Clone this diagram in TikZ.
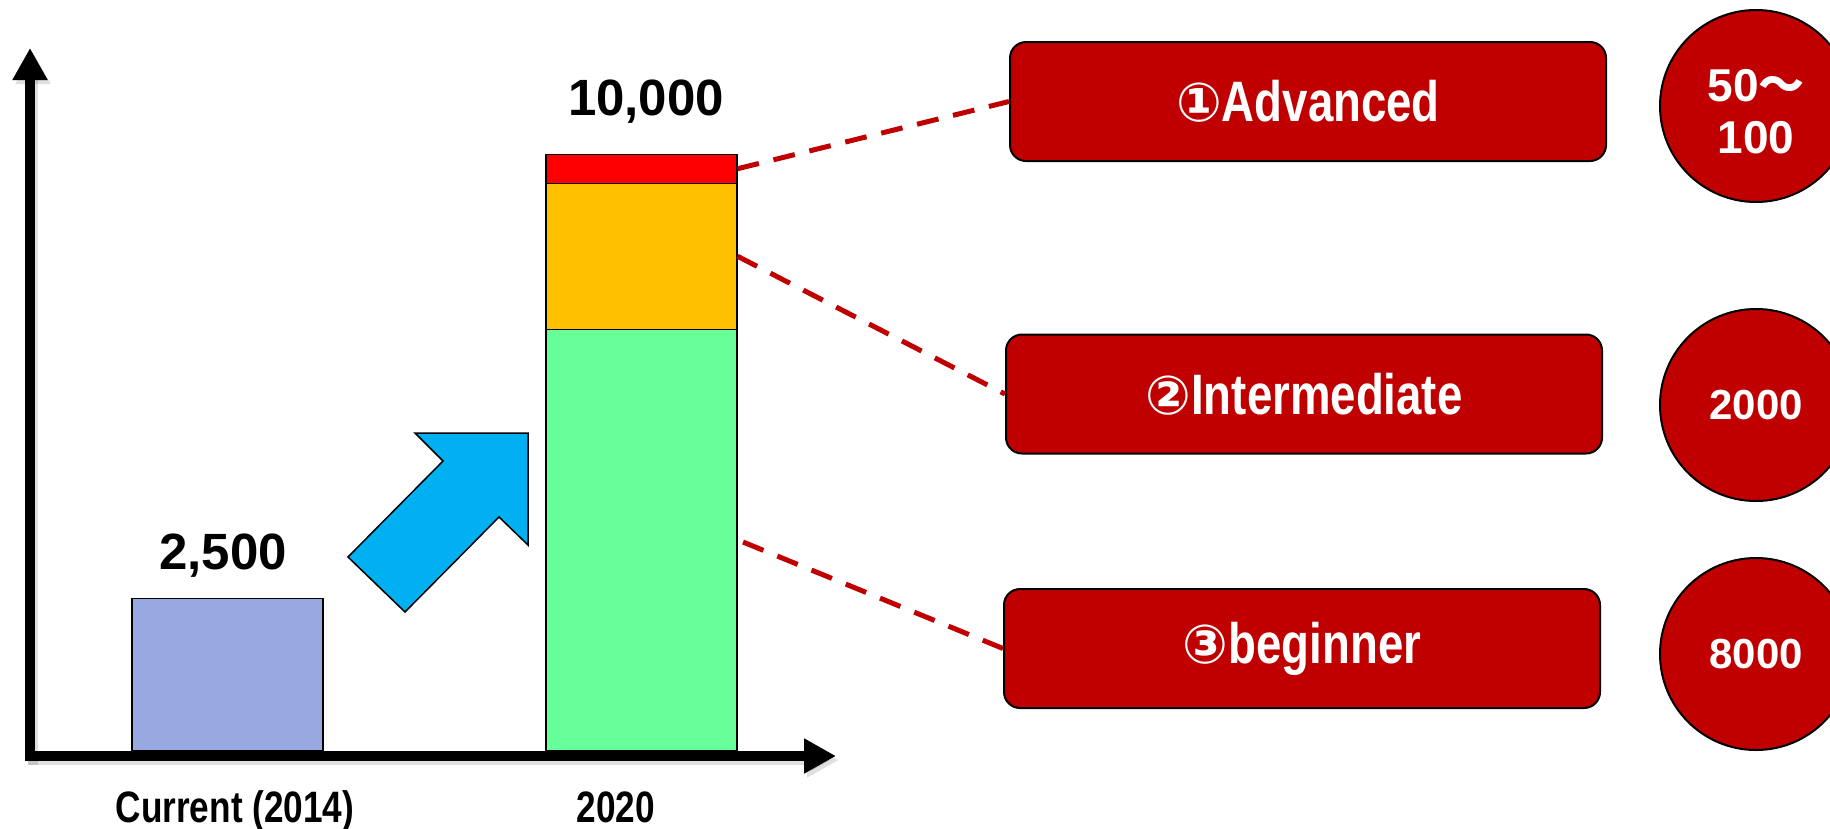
\documentclass[tikz,border=0pt]{standalone}
\usepackage{fontspec}
\setmainfont{Liberation Sans}
\newfontfamily\narrowfont[FakeStretch=0.8]{Liberation Sans}
\newfontfamily\ringfont{DejaVu Sans}
\newfontfamily\jpfont{Noto Sans CJK JP}
\usetikzlibrary{arrows.meta}
\definecolor{barblue}{RGB}{152,168,224}
\definecolor{mint}{RGB}{102,255,153}
\definecolor{amber}{RGB}{255,192,0}
\definecolor{hotred}{RGB}{255,0,0}
\definecolor{skyblue}{RGB}{0,176,240}
\definecolor{darkred}{RGB}{192,0,0}
\begin{document}
\begin{tikzpicture}[x=1pt,y=-1pt,
  axis/.style={line width=10pt, line cap=rect, -{Triangle[length=32pt,width=33pt]}},
  axisshade/.style={axis, draw=black, opacity=0.12},
  bar/.style={draw=black, line width=1.5pt, inner sep=0pt, minimum width=191pt, anchor=south west},
  num/.style={font=\fontsize{51}{56}\selectfont\bfseries},
  axislabel/.style={anchor=base, inner sep=0pt, font=\fontsize{44}{48}\selectfont\narrowfont\bfseries},
  level/.style={draw=black, line width=2pt, fill=darkred, rounded corners=16pt, text=white,
    minimum width=596pt, minimum height=119pt, inner sep=0pt,
    font=\fontsize{57}{60}\selectfont\narrowfont\bfseries},
  count/.style={circle, draw=black, line width=2pt, fill=darkred, text=white, minimum size=192pt,
    inner sep=0pt, align=center, font=\fontsize{42}{52}\selectfont\bfseries},
  lead/.style={draw=darkred, line width=5pt, dash pattern=on 22pt off 15pt}
]
\useasboundingbox (0,0) rectangle (1830,828);

% axes
\coordinate (origin) at (30,756);
\coordinate (ytip) at (30,48);
\coordinate (xtip) at (836,756);
\draw[axisshade] ([shift={(3,4)}]origin) -- ([shift={(3,4)}]ytip);
\draw[axisshade] ([shift={(3,4)}]origin) -- ([shift={(3,4)}]xtip);
\draw[axis] (origin) -- (ytip);
\draw[axis] (origin) -- (xtip);

% bars
\node[bar, fill=barblue, minimum height=152pt] (now) at (131,751) {};
\node[bar, fill=mint, minimum height=421pt] (beg) at (545,751) {};
\node[bar, fill=amber, minimum height=146pt] (mid) at (545,330) {};
\node[bar, fill=hotred, minimum height=29pt] (adv) at (545,184) {};

% value labels
\node[num] (vnow) at (223,556) {2,500};
\node[num] (vfut) at (646,102) {10,000};
\node[axislabel] (ynow) at (235,822) {Current (2014)};
\node[axislabel] (yfut) at (616,822) {2020};

% growth arrow
\draw[fill=skyblue, draw=black, line width=1.5pt, line join=miter]
  (415,433) -- (443,461) -- (348,557) -- (405,612) -- (499,517) -- (528,545) -- (528,433) -- cycle;

% level boxes
\node[level] (b1) at (1308,101.5) {{\ringfont\fontsize{54}{60}\selectfont ①}Advanced};
\node[level] (b2) at (1304,394) {{\ringfont\fontsize{54}{60}\selectfont ②}Intermediate};
\node[level] (b3) at (1302,648.5) {{\ringfont\fontsize{54}{60}\selectfont ③}beginner};

% head counts
\node[count, font=\fontsize{46}{52}\selectfont\bfseries] (c1) at (1756,106)
  {\raisebox{-11pt}[\height][\depth]{\begin{tabular}{@{}c@{}}50{\jpfont ～}\\100\end{tabular}}};
\node[count] (c2) at (1756,405) {2000};
\node[count] (c3) at (1756,654) {8000};

% leader lines
\draw[lead] (adv.east) -- (b1.west);
\draw[lead] (mid.east) -- (b2.west);
\draw[lead, shorten <=6pt] (beg.east) -- (b3.west);
\end{tikzpicture}
\end{document}
